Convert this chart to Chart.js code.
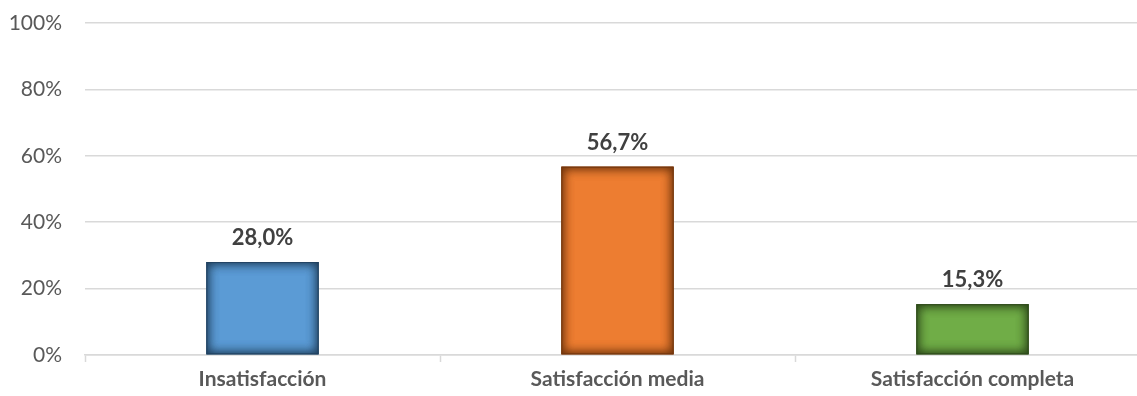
<!DOCTYPE html>
<html>
<head>
<meta charset="utf-8">
<script src="https://cdn.jsdelivr.net/npm/chart.js@4.4.1/dist/chart.umd.min.js"></script>
<style>
  html, body { margin: 0; padding: 0; background: #ffffff; overflow: hidden; }
  #wrap { position: relative; width: 1150px; height: 396px; }
</style>
</head>
<body>
<div id="wrap"><canvas id="chart"></canvas></div>
<script>
// Levels of satisfaction and their shares (percent)
const categories = ['Insatisfacción', 'Satisfacción media', 'Satisfacción completa'];
const shares = [28.0, 56.7, 15.3];
const yTicks = [0, 20, 40, 60, 80, 100];

const fills = ['#5b9bd5', '#ed7d31', '#70ad47'];
const edges = ['#1f3f5c', '#6e340c', '#2c4719'];
const FONT = 'Lato, "Open Sans", sans-serif';

function pct(v) {
  return v.toFixed(1).replace('.', ',') + '%';
}

// Darkened inner edge on each bar
const innerShade = {
  id: 'innerShade',
  afterDatasetsDraw(chart) {
    const ctx = chart.ctx;
    chart.getDatasetMeta(0).data.forEach((bar, i) => {
      const x = bar.x - bar.width / 2, w = bar.width;
      const y = Math.min(bar.y, bar.base), h = Math.abs(bar.base - bar.y);
      ctx.save();
      ctx.beginPath();
      ctx.rect(x, y, w, h);
      ctx.clip();
      ctx.shadowColor = edges[i];
      ctx.shadowBlur = 12;
      ctx.fillStyle = edges[i];
      for (let k = 0; k < 2; k++) {
        ctx.beginPath();
        ctx.rect(x - 40, y - 40, w + 80, h + 80);
        ctx.rect(x, y, w, h);
        ctx.fill('evenodd');
      }
      ctx.restore();
      ctx.save();
      ctx.strokeStyle = edges[i];
      ctx.globalAlpha = 0.8;
      ctx.lineWidth = 1;
      ctx.strokeRect(x + 0.5, y + 0.5, w - 1, h - 1);
      ctx.restore();
    });
  }
};

// Value labels above the bars
const valueLabels = {
  id: 'valueLabels',
  afterDatasetsDraw(chart) {
    const ctx = chart.ctx;
    const ds = chart.data.datasets[0];
    ctx.save();
    ctx.font = 'bold 22px ' + FONT;
    ctx.fillStyle = '#404040';
    ctx.textAlign = 'center';
    ctx.textBaseline = 'middle';
    chart.getDatasetMeta(0).data.forEach((bar, i) => {
      ctx.fillText(pct(ds.data[i]), bar.x, bar.y - 24);
    });
    ctx.restore();
  }
};

new Chart(document.getElementById('chart'), {
  type: 'bar',
  data: {
    labels: categories,
    datasets: [{
      data: shares,
      backgroundColor: fills,
      borderWidth: 0,
      barPercentage: 0.316,
      categoryPercentage: 1.0
    }]
  },
  options: {
    responsive: true,
    maintainAspectRatio: false,
    animation: false,
    layout: { autoPadding: false, padding: { top: 23, right: 0, bottom: 0, left: 0 } },
    plugins: { legend: { display: false }, title: { display: false }, tooltip: { enabled: false } },
    scales: {
      x: {
        grid: {
          drawOnChartArea: false,
          drawTicks: true,
          tickLength: 7,
          tickColor: '#d9d9d9',
          tickWidth: 1.5,
          offset: true
        },
        border: { display: true, color: '#d9d9d9', width: 1.5 },
        ticks: {
          color: '#595959',
          font: { family: FONT, size: 21, weight: 'bold' },
          padding: 5,
          maxRotation: 0
        },
        afterFit(scale) {
          scale.height = 41;
          scale.paddingLeft = 0;
          scale.paddingRight = 0;
        }
      },
      y: {
        min: 0,
        max: 100,
        afterBuildTicks(scale) { scale.ticks = yTicks.map(v => ({ value: v })); },
        grid: { color: '#d9d9d9', lineWidth: 1.5, drawTicks: false },
        border: { display: false },
        ticks: {
          color: '#595959',
          font: { family: FONT, size: 21 },
          padding: 23,
          callback: v => v + '%'
        },
        afterFit(scale) {
          scale.width = 85;
          scale.paddingTop = 0;
          scale.paddingBottom = 0;
        }
      }
    }
  },
  plugins: [innerShade, valueLabels]
});
</script>
</body>
</html>
